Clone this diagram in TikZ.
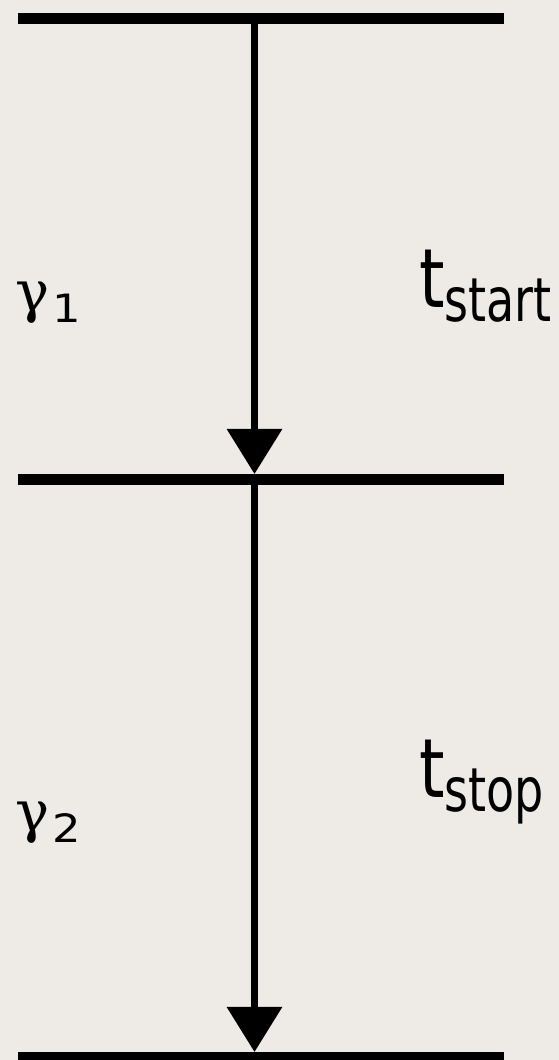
\documentclass[tikz,border=0pt]{standalone}
\usepackage{fontspec}
\setmainfont{DejaVu Sans}
\newfontfamily\gamfont{DejaVu Serif}
\usetikzlibrary{arrows.meta}
\definecolor{bgc}{RGB}{238,235,230}
\tikzset{
  level/.style={line width=11pt, line cap=butt},
  trans/.style={line width=6.5pt, -{Triangle[width=54pt,length=45pt]}},
  lbl/.style={anchor=base west, inner sep=0pt, outer sep=0pt}
}
\newcommand{\tmain}{\scalebox{1.05}[1.32]{\fontsize{62}{62}\selectfont t}}
\newcommand{\tsubtxt}[1]{\raisebox{-14pt}{\scalebox{1}[1.32]{\fontsize{46}{46}\selectfont #1}}}
\newcommand{\gamsym}{\scalebox{1}[1]{\gamfont\fontsize{57}{57}\selectfont γ}}
\newcommand{\gamsub}[1]{\raisebox{-11pt}{\scalebox{1.15}[1]{\fontsize{39}{39}\selectfont #1}}}
\begin{document}
\begin{tikzpicture}[x=1pt,y=1pt]
\fill[bgc] (0,0) rectangle (559,1060);
\useasboundingbox (0,0) rectangle (559,1060);
% levels
\coordinate (L1a) at (17.8,1041.5);
\coordinate (L1b) at (504,1041.5);
\coordinate (L2a) at (17.8,580.5);
\coordinate (L2b) at (504,580.5);
\coordinate (L3a) at (17.8,2.5);
\coordinate (L3b) at (504,2.5);
\draw[level] (L1a) -- (L1b);
\draw[level] (L2a) -- (L2b);
\draw[level] (L3a) -- (L3b);
% transitions
\coordinate (s1) at (254.5,1041.5);
\coordinate (e1) at (254.5,586);
\coordinate (s2) at (254.5,580.5);
\coordinate (e2) at (254.5,8);
\draw[trans] (s1) -- (e1);
\draw[trans] (s2) -- (e2);
% labels
\node[lbl] (g1) at (15,748) {\gamsym\hspace{3pt}\gamsub{1}};
\node[lbl] (g2) at (15,228) {\gamsym\hspace{3pt}\gamsub{2}};
\node[lbl] (t1) at (419,752) {\tmain\tsubtxt{start}};
\node[lbl] (t2) at (419,262) {\tmain\tsubtxt{stop}};
\end{tikzpicture}
\end{document}
